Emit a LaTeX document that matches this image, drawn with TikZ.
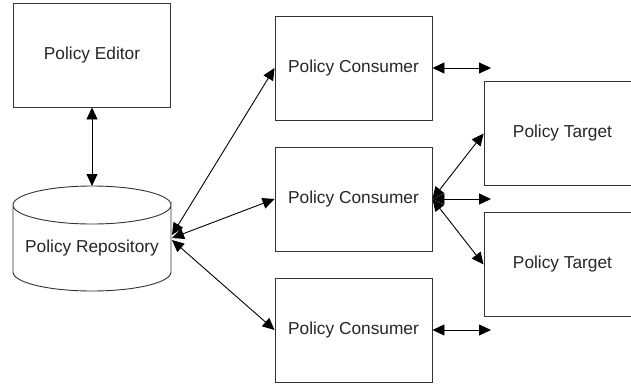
\documentclass[tikz,border=0pt]{standalone}
\usepackage{fontspec}
\setmainfont{Liberation Sans}
\usetikzlibrary{arrows.meta}
\begin{document}
\begin{tikzpicture}[x=1pt,y=-1pt,
  line width=0.9pt,
  every node/.style={font=\fontsize{17.3}{20}\selectfont, text=black!85},
  box/.style={draw=black!80, minimum width=157pt, minimum height=104pt, inner sep=0pt},
  link/.style={draw=black, line width=0.9pt, {Triangle[length=12pt,width=11pt]}-{Triangle[length=12pt,width=11pt]}},
]
\useasboundingbox (0,0) rectangle (631,383);

% boxes
\node[box] (editor) at (92,55) {Policy Editor};
\node[box] (cons1) at (353.5,68) {Policy Consumer};
\node[box] (cons2) at (353.5,199) {Policy Consumer};
\node[box] (cons3) at (353.5,330) {Policy Consumer};
\node[box] (targ1) at (562.5,133.5) {Policy Target};
\node[box] (targ2) at (562.5,264.5) {Policy Target};

% repository cylinder: sides, bottom rim and full top ellipse
\draw[draw=black!80] (13,205) -- (13,272)
  arc[start angle=180, end angle=0, x radius=79, y radius=19]
  -- (171,205)
  arc[start angle=0, end angle=360, x radius=79, y radius=19];
\node (repo) at (92,248) {Policy Repository};
\coordinate (repotop) at (92,186);
\coordinate (repoA) at (172,235);
\coordinate (repoB) at (172,238);
\coordinate (repoC) at (172,240);

% free ends toward the targets
\coordinate (out1) at (491,68);
\coordinate (out2) at (491,199);
\coordinate (out3) at (491,330);

% connectors
\draw[link] (editor.south) -- (repotop);
\draw[link] (repoA) -- (cons1.west);
\draw[link] (repoB) -- (cons2.west);
\draw[link] (repoC) -- (cons3.west);
\draw[link] (cons1.east) -- (out1);
\draw[link] (cons3.east) -- (out3);
\draw[link] (cons2.east) -- (out2);
\draw[link] (cons2.east) -- (targ1.west);
\draw[link] (cons2.east) -- (targ2.west);
\end{tikzpicture}
\end{document}
